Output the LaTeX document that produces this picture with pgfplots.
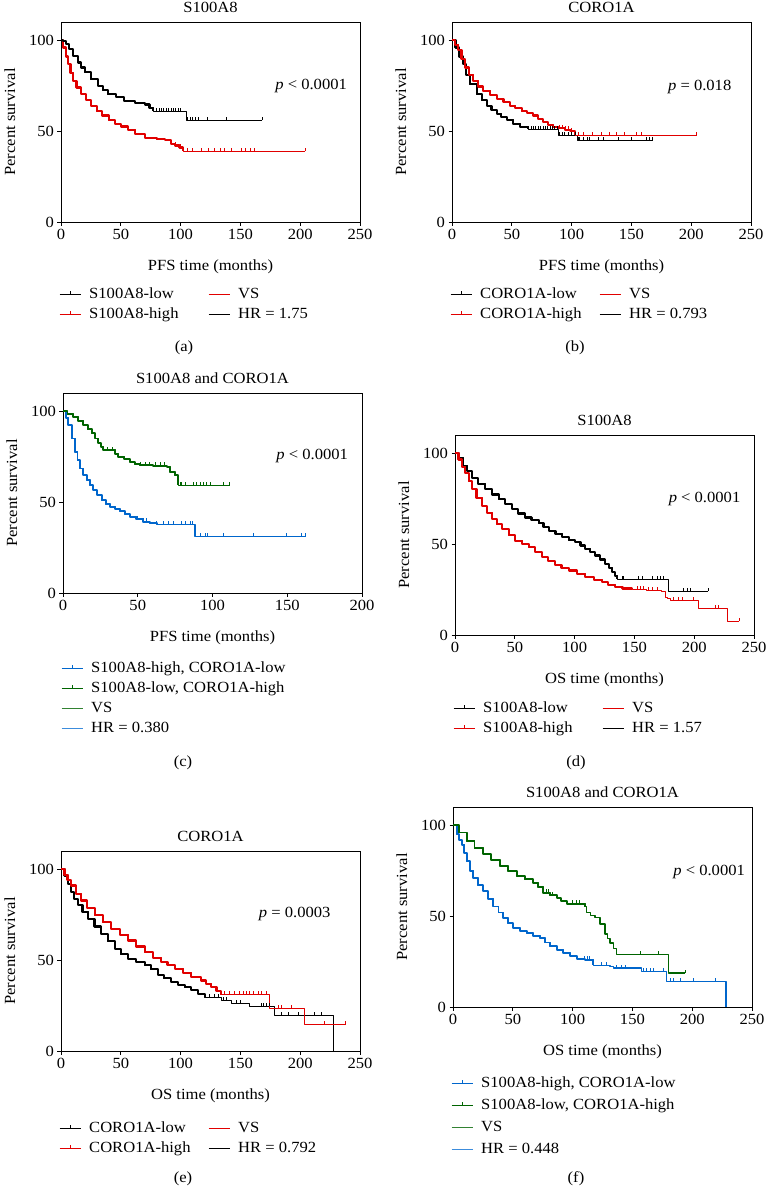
\documentclass[border=0pt]{standalone}
\usepackage{fontspec}
\setmainfont[FakeStretch=1.07]{Liberation Serif}
\usepackage{pgfplots}
\usepackage{pgfplotstable}
\pgfplotsset{compat=1.18}
\newcommand\ff{\fontsize{15.5}{18}\selectfont}
\definecolor{kmred}{RGB}{225,0,0}
\definecolor{kmgreen}{RGB}{0,100,0}
\definecolor{kmgreenl}{RGB}{50,130,50}
\definecolor{kmblue}{RGB}{0,102,204}
\definecolor{kmbluel}{RGB}{60,140,220}
\pgfdeclareplotmark{cens}{\pgfpathmoveto{\pgfpointorigin}\pgfpathlineto{\pgfpoint{0pt}{\pgfplotmarksize}}\pgfusepathqstroke}

% ---------- (a) PFS S100A8 ----------
\pgfplotstableread{
x y
0 100
2 99.5
4.4 97.8
7 95
10 91.4
14 87.7
17 85
20 82.3
25 78.6
31 75
35 72.5
39 70.4
46 68.6
53 66.4
62 65.3
70 64.6
74 62.8
77 61
105 56
168 56
}\Alow
\pgfplotstableread{
x y
80 61
82 61
84 61
86 61
88 61
90 61
92 61
94 61
96 61
98 61
100 61
106 56
108 56
110 56
112 56
115 56
122 56
138 56
168 56
}\Alowc
\pgfplotstableread{
x y
0 100
2 96
4 91
6 86.9
8 82
10 77.7
13 74
17 70.4
21 67
25 64
30 61
34 58.6
40 56
45 54
50 52.5
56 50.7
62 48.5
70 46.4
80 45.5
87 44.9
92 43
95 42.1
99 41
102 39
204 39
}\Ahigh
\pgfplotstableread{
x y
96 42.1
98 41
100 41
106 39
110 39
117 39
123 39
128.5 39
133 39
137 39
142.5 39
151 39
154 39
158 39
162 39
204 39
}\Ahighc

% ---------- (b) PFS CORO1A ----------
\pgfplotstableread{
x y
0 100
3 96
6 91
9.4 86.9
12 81
15 75.9
20.6 70.4
25 67
29 64
33 61.5
37.4 59.5
41 57.7
45.7 56.2
51 54
56.9 52.2
63.8 50.9
89 47.6
105 44.9
168 44.9
}\Blow
\pgfplotstableread{
x y
64 50.9
66 50.9
68 50.9
70 50.9
72 50.9
74 50.9
76 50.9
78 50.9
80 50.9
82 50.9
84 50.9
86 50.9
88 50.9
90 47.6
92 47.6
94 47.6
97 47.6
100 47.6
103 47.6
105.4 44.9
106.8 44.9
109.6 44.9
113 44.9
115.2 44.9
122.1 44.9
126.3 44.9
138.8 44.9
150 44.9
162.5 44.9
165.3 44.9
167.5 44.9
}\Blowc
\pgfplotstableread{
x y
0 100
2.5 97.5
5.3 94.4
8 89.5
10.9 85
14 81
17.8 77.7
22 74.5
26.2 72.2
32 70
37.4 67.7
43 65.8
48.5 64
53 62.5
58.3 60.9
63 59.8
68 58.6
72 56.5
76.3 54.9
80 53.5
84.7 52.2
89 51.5
94.5 50.7
99 50
102.8 47.6
204.6 47.6
}\Bhigh
\pgfplotstableread{
x y
90 51.5
92 51.5
95 50.7
97 50.7
100 50
105.4 47.6
109.5 47.6
117.3 47.6
124.8 47.6
131.8 47.6
137.4 47.6
144.4 47.6
154.1 47.6
158.3 47.6
204.3 47.6
}\Bhighc

% ---------- (c) PFS combined ----------
\pgfplotstableread{
x y
0 100
3 98.5
6.9 96.9
10 94.8
13.6 92.3
16.5 90
19.2 87.8
21.5 85
23.6 82.3
25.5 80.5
27 78.6
35 76.5
37 74.9
41 73.5
44.8 72.1
48 71
51.5 70.3
60 70
69.4 69.4
71.6 66.6
74.9 64.8
77.1 59.3
111.7 59.3
}\Cgreen
\pgfplotstableread{
x y
30 78.6
33 78.6
52 70.3
55 70.3
58 70.3
62 70
65 70
68 70
78.3 59.3
79.4 59.3
81.6 59.3
87.2 59.3
89.4 59.3
91.6 59.3
93.8 59.3
96.1 59.3
98.3 59.3
107.2 59.3
111.2 59.3
}\Cgreenc
\pgfplotstableread{
x y
0 100
2 96.5
3.6 92.3
5.8 85
8 77.6
9.7 73
11.4 68.5
13.5 65
15.8 62.1
18 59.3
20.3 56.6
23 53.8
25.9 51.1
28.5 49
31.4 47.4
35 46.2
38.1 45
41.5 43.3
44.8 41.9
49 40.5
53.7 39.2
58 38.5
62.7 37.9
88.3 30.9
162 30.9
}\Cblue
\pgfplotstableread{
x y
50 40.5
54 39.2
56 39.2
62.7 37.9
67.1 37.9
70.4 37.9
73.8 37.9
79.4 37.9
81.6 37.9
85 37.9
86.8 37.9
91.6 30.9
95 30.9
96.5 30.9
107.2 30.9
127.3 30.9
149.6 30.9
159.7 30.9
161.9 30.9
}\Cbluec

% ---------- (d) OS S100A8 ----------
\pgfplotstableread{
x y
0 100
3 97.5
7 93
10 90
14.2 86.5
19 83.2
25.3 80.2
31 77.3
36.5 74.7
42 71.9
47.7 69.2
53 66.8
58.8 64.6
64 63.4
70 61.6
74 59.6
78.3 57.4
84 55.6
89.5 53.7
95 52.2
100.6 51
105 49.2
109 47.4
113 45.6
117.3 43.7
121.5 41.5
125.7 39.2
128.5 37
131.3 34.6
133.5 32.5
135.5 30.6
178.7 24.2
211.5 24.2
}\Dlow
\pgfplotstableread{
x y
139.6 30.6
141 30.6
153.6 30.6
156.4 30.6
164.7 30.6
168.9 30.6
171.7 30.6
174.5 30.6
191.2 24.2
194 24.2
196.7 24.2
211.5 24.2
}\Dlowc
\pgfplotstableread{
x y
0 100
3 96.5
6 92.5
8.6 89.2
11.5 84.5
14.2 80.2
18 75.5
22.6 71
26.5 67.3
30.9 63.8
35 61
39.3 58.4
45 55
50.4 51.9
56 50
61.6 48.3
67 45.5
72.7 42.8
78 40.5
83.9 38.3
89 36.8
95 35.5
102 33.6
109 31.9
116 30.4
123 29.1
128 27.7
134 26.4
140 25.6
148 25.1
160 24.5
173 23.7
175.9 20.9
178 20
180 19.1
203.8 14.6
227.4 7.7
237.7 7.7
}\Dhigh
\pgfplotstableread{
x y
152.2 25.1
155 25.1
157.8 25.1
162 24.5
164.7 24.5
168.9 24.5
182.9 19.1
187 19.1
189.8 19.1
199.5 19.1
217.6 14.6
220.4 14.6
237.7 7.7
}\Dhighc

% ---------- (e) OS CORO1A ----------
\pgfplotstableread{
x y
0 100
3 96.5
6 92
8.6 87.4
11 83.5
14.2 80.1
18 76.5
22.6 72.7
28 68.5
33.7 64.5
39 60.5
44.9 56.2
50 53.2
56 50.4
63 49
70 47.1
75 45
81.1 41.6
86 40
92.2 37.9
98 36.5
103.4 35.2
109 33.5
114.5 31.5
120.2 29.7
134 27.9
142.4 26
157.8 24.7
178.7 19.6
227.4 0
}\Elow
\pgfplotstableread{
x y
120.2 29.7
124.3 29.7
128.5 29.7
131.3 29.7
136 27.9
138 27.9
146.6 26
150 26
167.5 24.7
168.9 24.7
171.7 24.7
174.5 24.7
184.2 19.6
189.8 19.6
198.2 19.6
212.1 19.6
217.6 19.6
}\Elowc
\pgfplotstableread{
x y
0 100
3 97
5.5 94
8.6 91
12.5 86.5
17 82.8
22 78.5
28.2 74.6
35 70.8
42.1 67.3
49 63.9
56 60.8
63 57.5
70 54.4
77 51.3
83.9 48.9
89 47.5
95 45.2
102 43
109 40.7
117.3 38.8
121.5 37
125.7 35.2
130 33
134 30.9
174.5 23.2
203.8 14.5
237.7 14.5
}\Ehigh
\pgfplotstableread{
x y
136.9 30.9
141.1 30.9
145.2 30.9
149.4 30.9
152.2 30.9
154.9 30.9
157.8 30.9
160.5 30.9
164.7 30.9
167.5 30.9
171.7 30.9
181.4 23.2
184.2 23.2
192.6 23.2
220.5 14.5
237.7 14.5
}\Ehighc

% ---------- (f) OS combined ----------
\pgfplotstableread{
x y
0 100
5 96
11.4 91.3
18 87.5
25.3 84
32 80.8
39.3 77.6
46 74.8
53.3 72.1
60 70.2
67.1 68.4
71 66
75.5 62.9
81 61.5
86.7 60.2
90 58.5
95 56.9
110.4 55.1
111.8 52
115 50.5
118.7 49.2
122.9 45.6
127.1 40.1
129 37.5
131.3 35.2
134 32
136.9 28.7
180 18.7
194 18.7
}\Fgreen
\pgfplotstableread{
x y
78 62.9
80 62.9
83 61.5
100 56.9
103 56.9
106 56.9
156.4 28.7
171.7 28.7
194 18.7
}\Fgreenc
\pgfplotstableread{
x y
0 100
3 95
5 92
7.3 89.2
9.5 84.5
11.4 80.1
14 75
17 70.9
21 67
25.3 63.6
29.5 59.5
33.7 55.3
38 52
42.1 48.9
46 46
50.4 43.4
56 42
61.6 40.7
67 39.3
72.7 37.9
77 35.5
81.1 33.4
87 31.5
92.2 29.7
98 28
103.4 26.5
110 26
117.3 22.9
131.3 22.4
134.1 21.4
157.8 19.6
178.7 14.1
228.3 0
}\Fblue
\pgfplotstableread{
x y
110 26
112 26
114 26
124.3 22.9
128.5 22.9
136.9 21.4
141.1 21.4
143.8 21.4
159.1 19.6
161.9 19.6
164.7 19.6
167.5 19.6
175.9 19.6
181.4 14.1
184.2 14.1
189.8 14.1
201 14.1
219.1 14.1
}\Fbluec

\pgfplotsset{
  km/.style={
    scale only axis, width=299pt, height=200pt,
    xmin=0, xmax=250, ymin=0, ymax=110,
    xtick={0,50,...,250}, ytick={0,50,100},
    tick align=outside, major tick length=3.5pt,
    xtick pos=bottom, ytick pos=left,
    axis line style={line width=0.8pt},
    every tick/.style={black, line width=0.8pt},
    tick label style={font=\ff},
    /pgf/number format/assume math mode=true,
    label style={font=\ff},
    title style={font=\ff, at={([yshift=4pt]axis description cs:0.5,1)}, anchor=base},
    xlabel style={at={([yshift=-48.5pt]axis description cs:0.5,0)}, anchor=base},
    ylabel style={at={([xshift=-46pt]axis description cs:0,0.5)}, anchor=base},
    ylabel={Percent survival},
    legend style={draw=none, fill=none, font=\ff, legend cell align=left,
      anchor=north west, inner sep=0pt, row sep=3pt, xshift=-2pt,
      nodes={inner xsep=0pt, inner ysep=1pt, text height=11pt, text depth=4pt},
      /tikz/every odd column/.append style={column sep=8pt}},
  },
  cl/.style={const plot, line width=0.9pt, forget plot, line join=round},
  ck/.style={const plot, line width=2.2pt, forget plot, line join=round},
  cm/.style={only marks, mark=cens, mark size=3.5pt, line width=0.8pt, forget plot},
  legc/.style={legend image code/.code={\draw[#1, line width=1pt] (0pt,0pt) -- (21pt,0pt); \draw[#1, line width=1pt] (10.5pt,0pt) -- (10.5pt,3.5pt);}},
  legl/.style={legend image code/.code={\draw[#1, line width=1pt] (0pt,0pt) -- (21pt,0pt);}},
}

\begin{document}
\begin{tikzpicture}
\useasboundingbox (0pt,0pt) rectangle (766pt,-1186pt);

% (a)
\begin{axis}[km, at={(61pt,-222pt)}, anchor=south west, title={S100A8}, xlabel={PFS time (months)},
  legend columns=2, legend style={at={(0,-0.32)}}]
\addlegendimage{legc=black}\addlegendentry{\makebox[119pt][l]{S100A8-low}}
\addlegendimage{legl=kmred}\addlegendentry{VS}
\addlegendimage{legc=kmred}\addlegendentry{\makebox[119pt][l]{S100A8-high}}
\addlegendimage{legl=black}\addlegendentry{HR = 1.75}
\addplot[cl, kmred] table {\Ahigh};
\addplot[ck, kmred, restrict x to domain=0:102] table {\Ahigh};
\addplot[cm, kmred] table {\Ahighc};
\addplot[cl, black] table {\Alow};
\addplot[ck, black, restrict x to domain=0:77] table {\Alow};
\addplot[cm, black] table {\Alowc};
\node[anchor=east, font=\ff] at (axis cs:242,75) {\textit{p} < 0.0001};
\end{axis}

% (b)
\begin{axis}[km, at={(452pt,-222pt)}, anchor=south west, title={CORO1A}, xlabel={PFS time (months)},
  legend columns=2, legend style={at={(0,-0.32)}}]
\addlegendimage{legc=black}\addlegendentry{\makebox[119pt][l]{CORO1A-low}}
\addlegendimage{legl=kmred}\addlegendentry{VS}
\addlegendimage{legc=kmred}\addlegendentry{\makebox[119pt][l]{CORO1A-high}}
\addlegendimage{legl=black}\addlegendentry{HR = 0.793}
\addplot[cl, black] table {\Blow};
\addplot[ck, black, restrict x to domain=0:64] table {\Blow};
\addplot[cm, black] table {\Blowc};
\addplot[cl, kmred] table {\Bhigh};
\addplot[ck, kmred, restrict x to domain=0:103] table {\Bhigh};
\addplot[cm, kmred] table {\Bhighc};
\node[anchor=east, font=\ff] at (axis cs:236.5,74.4) {\textit{p} = 0.018};
\end{axis}

% (c)
\begin{axis}[km, at={(63pt,-593pt)}, anchor=south west, xmax=200, xtick={0,50,...,200},
  title={S100A8 and CORO1A}, xlabel={PFS time (months)},
  legend columns=1, legend style={at={(0,-0.335)}}]
\addlegendimage{legc=kmblue}\addlegendentry{S100A8-high, CORO1A-low}
\addlegendimage{legc=kmgreen}\addlegendentry{S100A8-low, CORO1A-high}
\addlegendimage{legl=kmgreenl}\addlegendentry{VS}
\addlegendimage{legl=kmbluel}\addlegendentry{HR = 0.380}
\addplot[cl, kmblue, line width=1.2pt] table {\Cblue};
\addplot[ck, kmblue, line width=1.9pt, restrict x to domain=0:63] table {\Cblue};
\addplot[cm, kmblue] table {\Cbluec};
\addplot[cl, kmgreen, line width=1.2pt] table {\Cgreen};
\addplot[ck, kmgreen, line width=1.9pt, restrict x to domain=0:78] table {\Cgreen};
\addplot[cm, kmgreen] table {\Cgreenc};
\node[anchor=east, font=\ff] at (axis cs:193,75.3) {\textit{p} < 0.0001};
\end{axis}

% (d)
\begin{axis}[km, at={(455pt,-635pt)}, anchor=south west, title={S100A8}, xlabel={OS time (months)},
  legend columns=2, legend style={at={(0,-0.325)}}]
\addlegendimage{legc=black}\addlegendentry{\makebox[119pt][l]{S100A8-low}}
\addlegendimage{legl=kmred}\addlegendentry{VS}
\addlegendimage{legc=kmred}\addlegendentry{\makebox[119pt][l]{S100A8-high}}
\addlegendimage{legl=black}\addlegendentry{HR = 1.57}
\addplot[cl, black] table {\Dlow};
\addplot[ck, black, restrict x to domain=0:136] table {\Dlow};
\addplot[cm, black] table {\Dlowc};
\addplot[cl, kmred] table {\Dhigh};
\addplot[ck, kmred, restrict x to domain=0:149] table {\Dhigh};
\addplot[cm, kmred] table {\Dhighc};
\node[anchor=east, font=\ff] at (axis cs:241.5,74.7) {\textit{p} < 0.0001};
\end{axis}

% (e)
\begin{axis}[km, at={(61pt,-1051pt)}, anchor=south west, title={CORO1A}, xlabel={OS time (months)},
  legend columns=2, legend style={at={(0,-0.345)}}]
\addlegendimage{legc=black}\addlegendentry{\makebox[119pt][l]{CORO1A-low}}
\addlegendimage{legl=kmred}\addlegendentry{VS}
\addlegendimage{legc=kmred}\addlegendentry{\makebox[119pt][l]{CORO1A-high}}
\addlegendimage{legl=black}\addlegendentry{HR = 0.792}
\addplot[cl, black] table {\Elow};
\addplot[ck, black, restrict x to domain=0:121] table {\Elow};
\addplot[cm, black] table {\Elowc};
\addplot[cl, kmred] table {\Ehigh};
\addplot[ck, kmred, restrict x to domain=0:135] table {\Ehigh};
\addplot[cm, kmred] table {\Ehighc};
\node[anchor=east, font=\ff] at (axis cs:228.3,75.3) {\textit{p} = 0.0003};
\end{axis}

% (f)
\begin{axis}[km, at={(453pt,-1007pt)}, anchor=south west, title={S100A8 and CORO1A}, xlabel={OS time (months)},
  legend columns=1, legend style={at={(0,-0.34)}, row sep=5pt}]
\addlegendimage{legc=kmblue}\addlegendentry{S100A8-high, CORO1A-low}
\addlegendimage{legc=kmgreen}\addlegendentry{S100A8-low, CORO1A-high}
\addlegendimage{legl=kmgreenl}\addlegendentry{VS}
\addlegendimage{legl=kmbluel}\addlegendentry{HR = 0.448}
\addplot[cl, kmblue, line width=1.3pt] table {\Fblue};
\addplot[ck, kmblue, line width=1.9pt, restrict x to domain=0:118] table {\Fblue};
\addplot[cm, kmblue] table {\Fbluec};
\addplot[cl, kmgreen, line width=1.3pt] table {\Fgreen};
\addplot[ck, kmgreen, line width=1.9pt, restrict x to domain=0:111] table {\Fgreen};
\addplot[cm, kmgreen] table {\Fgreenc};
\node[anchor=east, font=\ff] at (axis cs:247,74.3) {\textit{p} < 0.0001};
\end{axis}

\node[font=\ff] at (184pt,-348pt) {(a)};
\node[font=\ff] at (575pt,-348pt) {(b)};
\node[font=\ff] at (183pt,-763pt) {(c)};
\node[font=\ff] at (576pt,-763pt) {(d)};
\node[font=\ff] at (183pt,-1179pt) {(e)};
\node[font=\ff] at (576pt,-1179pt) {(f)};
\end{tikzpicture}
\end{document}
